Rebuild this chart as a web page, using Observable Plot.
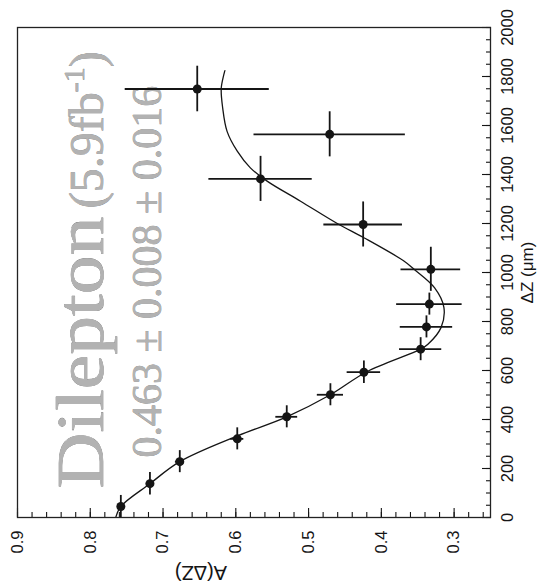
<!DOCTYPE html>
<html>
<head>
<meta charset="utf-8">
<script src="https://cdn.jsdelivr.net/npm/d3@7"></script>
<script src="https://cdn.jsdelivr.net/npm/@observablehq/plot@0.6"></script>
<style>
  html, body { margin: 0; padding: 0; background: #fff; }
  #chart svg { display: block; }
</style>
</head>
<body>
<div id="chart"></div>
<script>
// Measured asymmetry A(ΔZ) per ΔZ bin, with uncertainties
const deltaZ    = [45, 138, 228, 321, 411, 501, 593, 687, 778, 871, 1013, 1196, 1382, 1564, 1749];
const asym      = [0.758, 0.718, 0.677, 0.598, 0.530, 0.470, 0.424, 0.346, 0.338, 0.334, 0.332, 0.425, 0.566, 0.471, 0.653];
const deltaZErr = [45, 46, 45, 45, 45, 45, 46, 47, 45, 45, 90, 92, 92, 92, 93];
const asymErr   = [0.004, 0.005, 0.006, 0.009, 0.015, 0.018, 0.023, 0.029, 0.036, 0.045, 0.041, 0.054, 0.071, 0.104, 0.099];

// Fitted curve sampled along ΔZ
const fitDeltaZ = [0, 45, 138, 228, 334, 411, 501, 595, 687, 707, 775, 857, 938, 1013, 1047, 1142, 1199, 1291, 1373, 1427, 1495, 1576, 1671, 1753, 1824];
const fitAsym   = [0.765, 0.758, 0.718, 0.677, 0.597, 0.530, 0.470, 0.420, 0.346, 0.336, 0.318, 0.314, 0.327, 0.355, 0.369, 0.424, 0.460, 0.511, 0.557, 0.580, 0.598, 0.612, 0.618, 0.620, 0.615];

// Axis ticks
const asymMajor = [0.9, 0.8, 0.7, 0.6, 0.5, 0.4, 0.3];
const asymMinor = d3.range(13, 46).map(i => i / 50);      // every 0.02
const dzMajor   = [0, 200, 400, 600, 800, 1000, 1200, 1400, 1600, 1800, 2000];
const dzMinor   = d3.range(0, 2001, 50);

// Annotation texts
const sampleName = "Dilepton";
const lumiText   = "(5.9fb-1)";
const fitText    = "0.463 \u00B1 0.008 \u00B1 0.016";
const asymTitle  = "A(\u0394Z)";
const dzTitle    = "\u0394Z (\u03BCm)";

const points = deltaZ.map((z, i) => ({z, a: asym[i], ez: deltaZErr[i], ea: asymErr[i]}));
const fit = fitDeltaZ.map((z, i) => ({z, a: fitAsym[i]}));

const ink = "#151515";
const grey = {fill: "#b2b2b2", stroke: "#6e6e6e", strokeWidth: 0.5, fontFamily: "'Liberation Serif', 'Times New Roman', serif"};

const chart = Plot.plot({
  width: 544,
  height: 585,
  marginLeft: 17,
  marginRight: 54,
  marginTop: 27,
  marginBottom: 68,
  style: {fontFamily: "'Liberation Sans', Arial, sans-serif", background: "#fff", color: ink},
  x: {domain: [0.9, 0.25]},
  y: {domain: [0, 2000]},
  marks: [
    // annotations drawn first so the data sit on top
    Plot.text([sampleName], {x: () => 0.782, y: () => 118, text: d => d, rotate: -90, textAnchor: "start", lineAnchor: "bottom", fontSize: 68, ...grey}),
    Plot.text([lumiText], {x: () => 0.782, y: () => 1262, text: d => d, rotate: -90, textAnchor: "start", lineAnchor: "bottom", fontSize: 48, ...grey}),
    Plot.text([fitText], {x: () => 0.703, y: () => 245, text: d => d, rotate: -90, textAnchor: "start", lineAnchor: "bottom", fontSize: 42, ...grey}),

    // error bars
    Plot.ruleY(points, {y: "z", x1: d => d.a - d.ea, x2: d => d.a + d.ea, stroke: ink, strokeWidth: 1.8, clip: true}),
    Plot.ruleX(points, {x: "a", y1: d => d.z - d.ez, y2: d => d.z + d.ez, stroke: ink, strokeWidth: 1.8, clip: true}),

    // fit
    Plot.line(fit, {x: "a", y: "z", curve: "catmull-rom", stroke: ink, strokeWidth: 1.3, clip: true}),

    // data points
    Plot.dot(points, {x: "a", y: "z", r: 4.5, fill: ink}),

    // ticks pointing into the frame
    Plot.axisX({ticks: asymMajor, tickSize: 9, dy: -9, fill: "none", stroke: ink, strokeWidth: 1.1, label: null}),
    Plot.axisX({ticks: asymMinor, tickSize: 5, dy: -5, fill: "none", stroke: ink, strokeWidth: 1.1, label: null}),
    Plot.axisY({anchor: "right", ticks: dzMajor, tickSize: 9, dx: -9, fill: "none", stroke: ink, strokeWidth: 1.1, label: null}),
    Plot.axisY({anchor: "right", ticks: dzMinor, tickSize: 5, dx: -5, fill: "none", stroke: ink, strokeWidth: 1.1, label: null}),

    // tick labels
    Plot.text(asymMajor, {x: d => d, frameAnchor: "bottom", text: d => d.toFixed(1), rotate: -90, textAnchor: "end", lineAnchor: "middle", dy: 13, fontSize: 16.5, fill: ink}),
    Plot.text(dzMajor, {y: d => d, frameAnchor: "right", text: d => String(d), rotate: -90, textAnchor: "middle", lineAnchor: "top", dx: 11, fontSize: 16.5, fill: ink}),

    // axis titles
    Plot.text([asymTitle], {x: () => 0.648, frameAnchor: "bottom", text: d => d, rotate: 180, textAnchor: "middle", lineAnchor: "middle", dy: 55, fontSize: 20, fill: ink}),
    Plot.text([dzTitle], {y: () => 1000, frameAnchor: "right", text: d => d, rotate: -90, textAnchor: "middle", lineAnchor: "top", dx: 30, fontSize: 17, fill: ink}),

    Plot.frame({stroke: "#222", strokeWidth: 1.3})
  ]
});

// Typographic touches: a wide sample name and a superscript exponent
const svg = d3.select(chart);
svg.selectAll("text").filter(function() { return this.textContent === sampleName; })
  .attr("textLength", 272).attr("lengthAdjust", "spacingAndGlyphs");
svg.selectAll("text").filter(function() { return this.textContent === lumiText; })
  .each(function() {
    const t = d3.select(this);
    t.text(null);
    t.append("tspan").text("(5.9fb");
    t.append("tspan").attr("dy", "-19px").attr("font-size", "30px").text("-1");
    t.append("tspan").attr("dy", "19px").text(")");
  });

document.getElementById("chart").appendChild(chart);
</script>
</body>
</html>
